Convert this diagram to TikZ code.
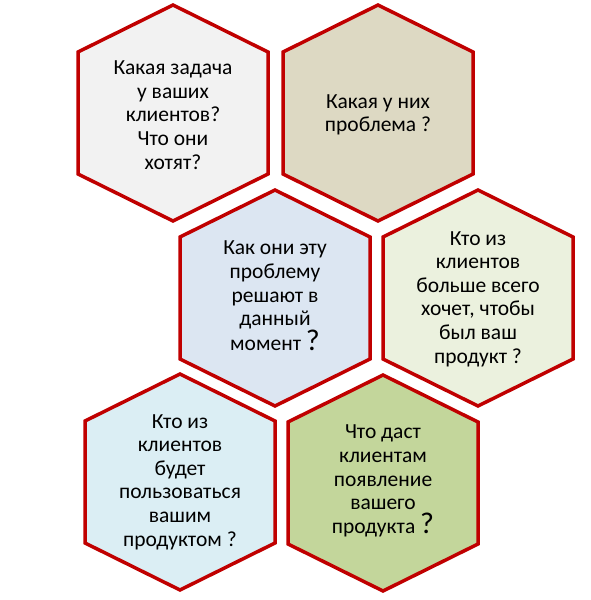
\documentclass[tikz,border=0pt]{standalone}
\usepackage{fontspec}
\setmainfont{Carlito}
\definecolor{hexred}{HTML}{C00000}
\definecolor{hexgray}{HTML}{F2F2F2}
\definecolor{hextan}{HTML}{DDD9C3}
\definecolor{hexsteel}{HTML}{DCE6F2}
\definecolor{hexlime}{HTML}{EBF1DE}
\definecolor{hexsky}{HTML}{DBEEF4}
\definecolor{hexolive}{HTML}{C3D69B}
\tikzset{
  hexa/.style={draw=hexred,line width=3.5pt},
  hextext/.style={align=center,text=black,font=\fontsize{21.5}{23.6}\selectfont}
}
\newcommand{\hexat}[2]{%
  \draw[hexa,fill=#2,shift={(#1)}] (0,-108) -- (95,-61) -- (95,61) -- (0,108) -- (-95,61) -- (-95,-61) -- cycle;}
\newcommand{\bigq}{{\fontsize{30}{23.6}\selectfont ?}}
\begin{document}
\begin{tikzpicture}[x=1pt,y=-1pt]
  \useasboundingbox (0,0) rectangle (591,600);
  \coordinate (Q1) at (173,113);
  \coordinate (Q2) at (378,113);
  \coordinate (Q3) at (275,298);
  \coordinate (Q4) at (478,298);
  \coordinate (Q5) at (180,482);
  \coordinate (Q6) at (383,483);
  \hexat{Q1}{hexgray}
  \hexat{Q2}{hextan}
  \hexat{Q3}{hexsteel}
  \hexat{Q4}{hexlime}
  \hexat{Q5}{hexsky}
  \hexat{Q6}{hexolive}
  \node[hextext] (task) at (173,115) {Какая задача\\у ваших\\клиентов?\\Что они\\хотят?};
  \node[hextext] (problem) at (378,115) {Какая у них\\проблема ?};
  \node[hextext] (solve) at (275,296) {Как они эту\\проблему\\решают в\\данный\\момент \bigq};
  \node[hextext] (want) at (478,299) {Кто из\\клиентов\\больше всего\\хочет, чтобы\\был ваш\\продукт ?};
  \node[hextext] (use) at (180,482) {Кто из\\клиентов\\будет\\пользоваться\\вашим\\продуктом ?};
  \node[hextext] (gain) at (383,481) {Что даст\\клиентам\\появление\\вашего\\продукта \bigq};
\end{tikzpicture}
\end{document}
